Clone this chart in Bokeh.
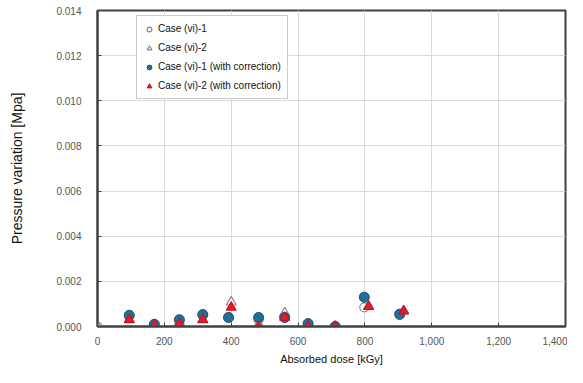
from bokeh.plotting import figure
from bokeh.models import Range1d, FixedTicker, NumeralTickFormatter, Legend, LegendItem
from bokeh.embed import file_html
from bokeh.resources import INLINE

# --- data ---
dose_c1 = [0, 95, 170, 245, 315, 392, 482, 560, 630, 711, 798, 904]
p_c1 = [0.0, 0.00045, 0.0001, 0.00028, 0.0005, 0.0004, 0.0003, 0.0004, 0.00012, 0.0, 0.00085, 0.0005]
dose_c1_corr = [95, 170, 245, 315, 392, 482, 560, 630, 711, 798, 904]
p_c1_corr = [0.0005, 0.0001, 0.0003, 0.00053, 0.0004, 0.0004, 0.0004, 0.00013, 0.0, 0.0013, 0.00055]

dose_c2 = [0, 95, 170, 245, 315, 400, 482, 560, 630, 711, 811, 916]
p_c2 = [0.0, 0.0003, 0.00005, 0.0002, 0.0003, 0.00108, 0.0001, 0.0006, 0.0001, 0.0, 0.0009, 0.0007]
dose_c2_corr = [95, 170, 245, 315, 400, 482, 560, 630, 711, 811, 916]
p_c2_corr = [0.0003, 0.00005, 0.00012, 0.0003, 0.00085, 0.0, 0.0004, 0.0, 0.0, 0.00088, 0.00068]

x_ticks = [0, 200, 400, 600, 800, 1000, 1200, 1400]
y_ticks = [0.0, 0.002, 0.004, 0.006, 0.008, 0.010, 0.012, 0.014]

labels = ["Case (vi)-1", "Case (vi)-2", "Case (vi)-1 (with correction)", "Case (vi)-2 (with correction)"]

FONT = "Liberation Sans"

p = figure(width=567, height=367, output_backend="svg", toolbar_location=None,
           x_range=Range1d(0, 1400), y_range=Range1d(0, 0.014),
           min_border_left=97, min_border_right=2, min_border_top=10, min_border_bottom=40)

p.outline_line_color = "#404040"
p.outline_line_width = 2
p.background_fill_color = "white"

for ax in (p.xaxis[0], p.yaxis[0]):
    ax.axis_line_color = "#404040"
    ax.axis_line_width = 2
    ax.major_tick_in = 4
    ax.major_tick_out = 0
    ax.major_tick_line_color = "#404040"
    ax.minor_tick_line_color = None
    ax.major_label_text_font = FONT
    ax.major_label_text_font_size = "10px"
    ax.major_label_text_color = "#555555"
    ax.axis_label_text_font = FONT
    ax.axis_label_text_font_style = "normal"
    ax.axis_label_text_color = "#111111"

p.xaxis.ticker = FixedTicker(ticks=x_ticks)
p.yaxis.ticker = FixedTicker(ticks=y_ticks)
p.xaxis.formatter = NumeralTickFormatter(format="0,0")
p.yaxis.formatter = NumeralTickFormatter(format="0.000")
p.xaxis.axis_label = "Absorbed dose [kGy]"
p.yaxis.axis_label = "Pressure variation [Mpa]"
p.xaxis.axis_label_text_font_size = "11px"
p.yaxis.axis_label_text_font_size = "14px"
p.xaxis.major_label_standoff = 10
p.yaxis.major_label_standoff = 16
p.xaxis.axis_label_standoff = 5
p.yaxis.axis_label_standoff = 28

p.xgrid.grid_line_color = "#d9d9d9"
p.ygrid.grid_line_color = "#d9d9d9"

r1 = p.scatter(dose_c1, p_c1, marker="circle", size=9, fill_color="white",
               line_color="#8a8a8a", line_width=1.2)
r2 = p.scatter(dose_c2, p_c2, marker="triangle", size=10, fill_color="white",
               line_color="#8a8a8a", line_width=1.2)
r3 = p.scatter(dose_c1_corr, p_c1_corr, marker="circle", size=10, fill_color="#1f6f99",
               line_color="#1d4f6e", line_width=1)
r4 = p.scatter(dose_c2_corr, p_c2_corr, marker="triangle", size=10, fill_color="#e8192c",
               line_color="#c0101f", line_width=1)

legend = Legend(items=[LegendItem(label=labels[0], renderers=[r1]),
                       LegendItem(label=labels[1], renderers=[r2]),
                       LegendItem(label=labels[2], renderers=[r3]),
                       LegendItem(label=labels[3], renderers=[r4])],
                location=(39, 227))
legend.label_text_font = FONT
legend.label_text_font_size = "10px"
legend.label_text_color = "#111111"
legend.label_height = 13
legend.glyph_height = 12
legend.glyph_width = 12
legend.label_standoff = 3
legend.spacing = 6
legend.padding = 6
legend.margin = 0
legend.border_line_color = "#9a9a9a"
legend.border_line_width = 1.5
legend.background_fill_color = "white"
legend.background_fill_alpha = 1
p.add_layout(legend)

open("out.html", "w").write(file_html(p, INLINE))
